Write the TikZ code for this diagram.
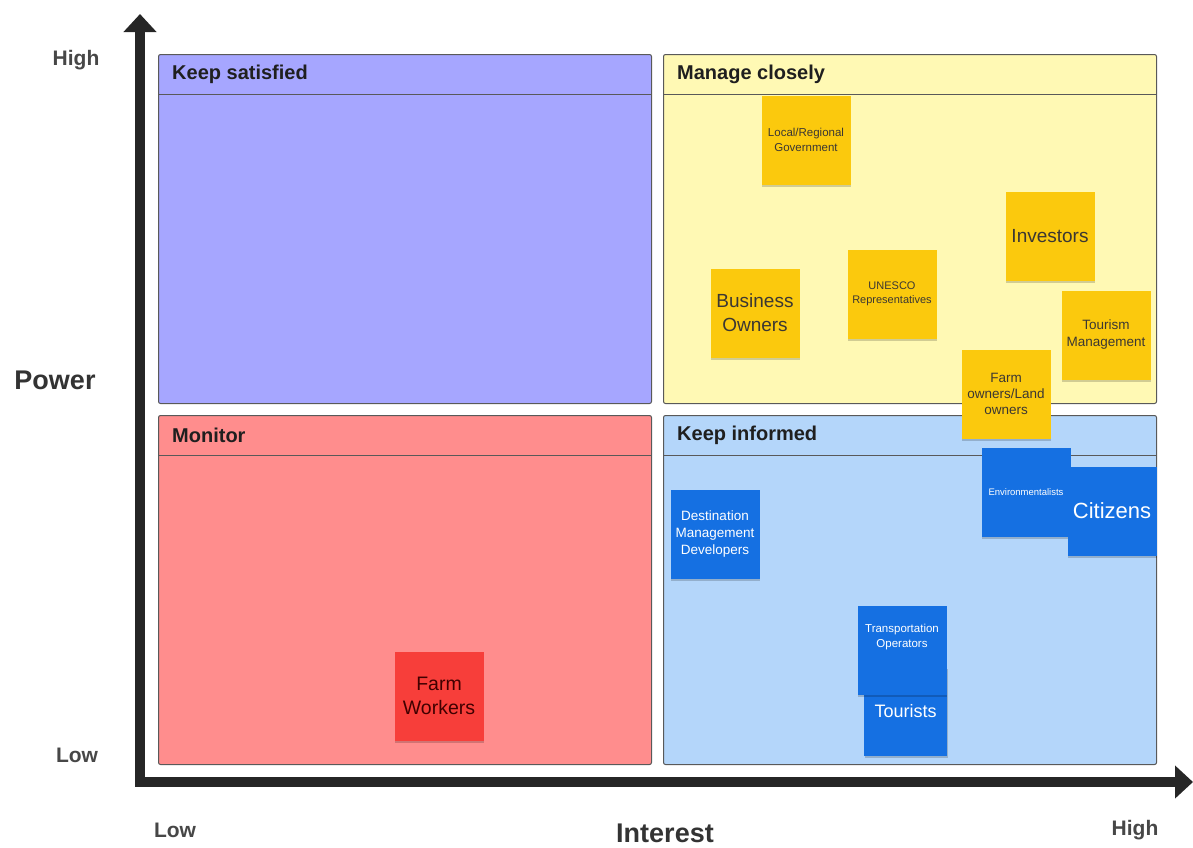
\documentclass[tikz,border=0pt]{standalone}
\usepackage{fontspec}
\setmainfont{Liberation Sans}
\usetikzlibrary{shadows}
\usetikzlibrary{arrows.meta}

\definecolor{satisfiedFill}{HTML}{A6A6FF}
\definecolor{closelyFill}{HTML}{FFF9B4}
\definecolor{monitorFill}{HTML}{FF8D8D}
\definecolor{informedFill}{HTML}{B4D6FA}
\definecolor{stickyYellow}{HTML}{FBC90D}
\definecolor{stickyBlue}{HTML}{1570E2}
\definecolor{stickyRed}{HTML}{F73E3A}
\definecolor{axisGrey}{HTML}{262626}

\begin{document}
\begin{tikzpicture}[
    x=1pt, y=-1pt,
    quadBox/.style={draw=black!65, line width=1pt, rounded corners=2pt, inner sep=0pt,
                    minimum width=493pt, minimum height=349pt, anchor=north west},
    quadTitle/.style={anchor=west, inner sep=0pt, text=black!88,
                      font=\fontsize{20}{24}\selectfont\bfseries},
    axisLine/.style={line width=10pt, draw=axisGrey, line join=miter,
                     {Triangle[length=18pt,width=32pt]}-{Triangle[length=18pt,width=32pt]}},
    axisLabel/.style={text=black!72, font=\fontsize{21}{24}\selectfont\bfseries},
    note/.style={minimum width=89pt, minimum height=89pt, inner sep=1pt, align=center,
                 drop shadow={shadow xshift=0.5pt, shadow yshift=-2.5pt, fill=black, opacity=0.18}},
    yellowNote/.style={note, fill=stickyYellow, text=black!72!yellow!40!black},
    blueNote/.style={note, fill=stickyBlue, text=white},
    redNote/.style={note, fill=stickyRed, text=black!75!red},
    ]

    % Determines the boundries
    \path[use as bounding box] (0,0) rectangle (1193,847);

    \def\boxW{493}
    \def\boxH{349}
    \def\headH{40}

    % The four quadrants with their header bars
    \foreach \qName/\qx/\qy/\qCol/\qTitle in {
            satisfied/158/54/satisfiedFill/Keep satisfied,
            closely/663/54/closelyFill/Manage closely,
            monitor/158/415/monitorFill/Monitor,
            informed/663/415/informedFill/Keep informed}{
        \node[quadBox, fill=\qCol] (\qName) at (\qx,\qy) {};
        \draw[black!65, line width=1pt] (\qx,\qy+\headH) -- ++(\boxW,0);
        \node[quadTitle] (\qName-title) at (\qx+14,\qy+20) {\qTitle};
    }

    % Axes
    \coordinate (powerTip)    at (140,14);
    \coordinate (origin)      at (140,782);
    \coordinate (interestTip) at (1193,782);
    \draw[axisLine] (powerTip) -- (origin) -- (interestTip);

    \node[axisLabel] (powerHigh) at (76,60)  {High};
    \node[axisLabel] (powerLow)  at (77,755) {Low};
    \node[axisLabel, text=black!80, font=\fontsize{27}{30}\selectfont\bfseries] (power) at (55,380) {Power};

    \node[axisLabel] (interestLow)  at (175,830)  {Low};
    \node[axisLabel, text=black!80, font=\fontsize{27}{30}\selectfont\bfseries] (interest) at (665,833) {Interest};
    \node[axisLabel] (interestHigh) at (1135,830) {High};

    % Manage closely
    \node[yellowNote, font=\fontsize{11.5}{15}\selectfont] (localGov) at (806,140)
        {Local/Regional\\Government};
    \node[yellowNote, font=\fontsize{19}{22}\selectfont] (investors) at (1050,236)
        {Investors};
    \node[yellowNote, font=\fontsize{19}{24}\selectfont] (business) at (755,313)
        {Business\\Owners};
    \node[yellowNote, font=\fontsize{11}{14}\selectfont] (unesco) at (892,294)
        {UNESCO\\Representatives};
    \node[yellowNote, font=\fontsize{13.5}{17}\selectfont] (tourismMgmt) at (1106,335)
        {Tourism\\Management};
    \node[yellowNote, font=\fontsize{13.5}{16}\selectfont] (farmOwners) at (1006,394)
        {Farm\\owners/Land\\owners};

    % Keep informed
    \node[blueNote, font=\fontsize{13.5}{17}\selectfont] (destMgmt) at (715,534)
        {Destination\\Management\\Developers};
    \node[blueNote, font=\fontsize{9.5}{12}\selectfont] (environ) at (1026,492)
        {Environmentalists};
    \node[blueNote, font=\fontsize{22}{26}\selectfont] (citizens) at (1112,511)
        {Citizens};
    \node[blueNote, minimum width=83pt, font=\fontsize{18}{22}\selectfont] (tourists) at (905.5,711)
        {Tourists};
    \node[blueNote, font=\fontsize{11.5}{15}\selectfont] (transport) at (902,650)
        {Transportation\\Operators\\[1.2em]};

    % Monitor
    \node[redNote, font=\fontsize{19.5}{24}\selectfont] (farmWorkers) at (439,696)
        {Farm\\Workers};
\end{tikzpicture}
\end{document}
